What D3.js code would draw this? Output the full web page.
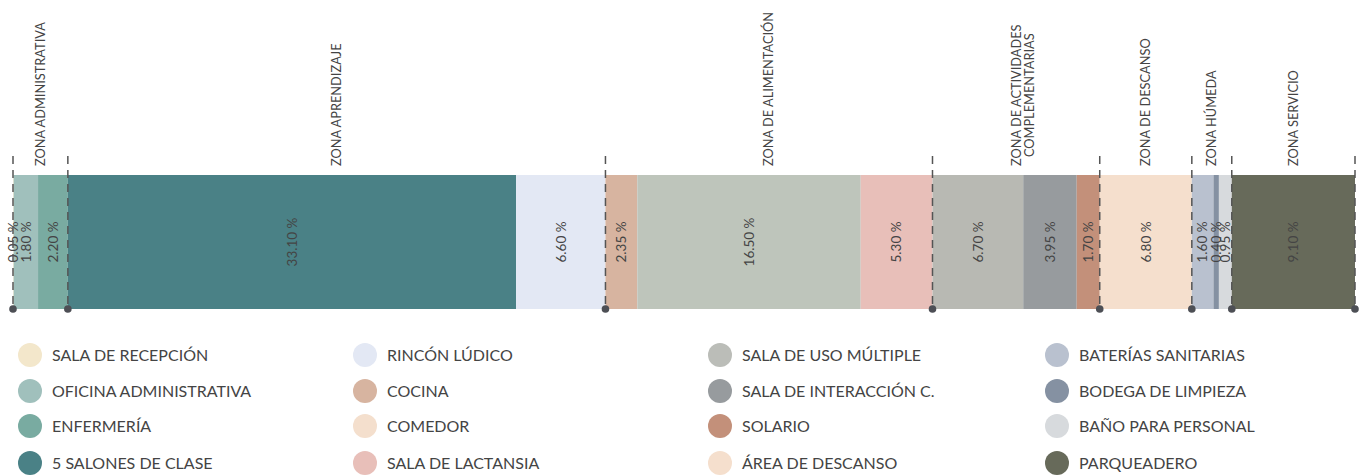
<!DOCTYPE html>
<html>
<head>
<meta charset="utf-8">
<script src="https://cdn.jsdelivr.net/npm/d3@7"></script>
<style>
  html, body { margin: 0; padding: 0; background: #fff; }
  svg { display: block; font-family: "Lato", "Open Sans", sans-serif; }
</style>
</head>
<body>
<svg id="chart" width="1362" height="476"></svg>
<script>
// Spaces of the programme, in bar order
const spaces = [
  "SALA DE RECEPCIÓN", "OFICINA ADMINISTRATIVA", "ENFERMERÍA", "5 SALONES DE CLASE",
  "RINCÓN LÚDICO", "COCINA", "COMEDOR", "SALA DE LACTANSIA",
  "SALA DE USO MÚLTIPLE", "SALA DE INTERACCIÓN C.", "SOLARIO", "ÁREA DE DESCANSO",
  "BATERÍAS SANITARIAS", "BODEGA DE LIMPIEZA", "BAÑO PARA PERSONAL", "PARQUEADERO"
];
// Share of the total area, in percent
const shares = [0.05, 1.80, 2.20, 33.10, 6.60, 2.35, 16.50, 5.30, 6.70, 3.95, 1.70, 6.80, 1.60, 0.40, 0.95, 9.10];
// Zone each space belongs to
const zoneOf = [0, 0, 0, 1, 1, 2, 2, 2, 3, 3, 3, 4, 5, 5, 5, 6];
const zones = [
  ["ZONA ADMINISTRATIVA"],
  ["ZONA APRENDIZAJE"],
  ["ZONA DE ALIMENTACIÓN"],
  ["ZONA DE ACTIVIDADES", "COMPLEMENTARIAS"],
  ["ZONA DE DESCANSO"],
  ["ZONA HÚMEDA"],
  ["ZONA SERVICIO"]
];
const barColors = [
  "#f3e7cb", "#a0c0bc", "#79aba1", "#4a8186",
  "#e3e8f4", "#d7b4a0", "#bec5bb", "#e8bfb9",
  "#b8b9b3", "#979b9e", "#c3907a", "#f5dfcd",
  "#b9c1cf", "#8591a2", "#d7dadd", "#676a5a"
];
const legendColors = [
  "#f3e7cb", "#a0c0bc", "#79aba1", "#4a8186",
  "#e3e8f4", "#d7b4a0", "#f4dfcd", "#e8bfb9",
  "#bbbdb8", "#979b9e", "#c3907a", "#f5dfcd",
  "#b9c1cf", "#8591a2", "#d7dadd", "#676a5a"
];

const svg = d3.select("#chart");
const ink = "#444";

// cumulative positions
let acc = 0;
const rows = shares.map((v, i) => {
  const r = { name: spaces[i], value: v, start: acc, end: acc + v, zone: zoneOf[i], color: barColors[i] };
  acc += v;
  return r;
});
const total = acc;

const x = d3.scaleLinear().domain([0, total]).range([13, 1355]);
const barTop = 175, barBottom = 309;

// bars
svg.append("g").selectAll("rect").data(rows).join("rect")
  .attr("x", d => x(d.start))
  .attr("y", barTop)
  .attr("width", d => x(d.end) - x(d.start))
  .attr("height", barBottom - barTop)
  .attr("fill", d => d.color);

// value labels
svg.append("g").selectAll("text").data(rows).join("text")
  .attr("transform", d => `translate(${(x(d.start) + x(d.end)) / 2},${(barTop + barBottom) / 2}) rotate(-90)`)
  .attr("text-anchor", "middle")
  .attr("dy", "0.35em")
  .attr("font-size", 13.5)
  .attr("fill", ink)
  .text(d => d.value.toFixed(2) + " %");

// zone extents
const zoneExt = zones.map((z, k) => {
  const members = rows.filter(r => r.zone === k);
  return { lines: z, start: d3.min(members, m => m.start), end: d3.max(members, m => m.end) };
});
const bounds = [0, ...zoneExt.map(z => z.end)];

// dashed separators and end dots
const sep = svg.append("g");
sep.selectAll("line").data(bounds).join("line")
  .attr("x1", d => x(d)).attr("x2", d => x(d))
  .attr("y1", 156).attr("y2", barBottom)
  .attr("stroke", "#555").attr("stroke-width", 1.5)
  .attr("stroke-dasharray", "8,6");
sep.selectAll("circle").data(bounds).join("circle")
  .attr("cx", d => x(d)).attr("cy", barBottom).attr("r", 3.8)
  .attr("fill", "#4d4f55");

// zone labels, rotated, reading bottom to top above the bar
const zl = svg.append("g");
zoneExt.forEach(z => {
  const cx = (x(z.start) + x(z.end)) / 2;
  const lh = 13;
  const g = zl.append("g").attr("transform", `translate(${cx},166) rotate(-90)`);
  const t = g.append("text").attr("font-size", 12.8).attr("fill", ink);
  t.selectAll("tspan").data(z.lines).join("tspan")
    .attr("x", 0)
    .attr("dy", (d, i) => i === 0 ? 4.5 : lh)
    .text(d => d);
  // longest line starts at the anchor, shorter lines centred on it
  const lens = [];
  t.selectAll("tspan").each(function () { lens.push(this.getComputedTextLength()); });
  const maxLen = d3.max(lens);
  t.selectAll("tspan").attr("x", (d, i) => (maxLen - lens[i]) / 2);
});

// legend
const colX = [30, 365, 720, 1057];
const rowY = [355, 391, 426, 463];
const leg = svg.append("g").selectAll("g").data(spaces).join("g")
  .attr("transform", (d, i) => `translate(${colX[Math.floor(i / 4)]},${rowY[i % 4]})`);
leg.append("circle").attr("r", 12).attr("fill", (d, i) => legendColors[i]);
leg.append("text")
  .attr("x", 22).attr("dy", "0.36em")
  .attr("font-size", 16).attr("fill", ink)
  .text(d => d);
</script>
</body>
</html>
